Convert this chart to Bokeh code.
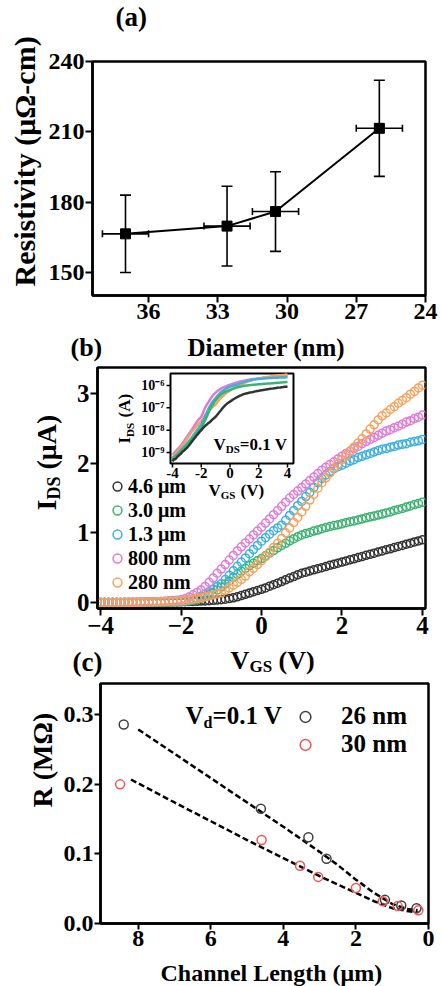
from math import pi
from bokeh.plotting import figure
from bokeh.models import (Range1d, LogScale, FixedTicker, Label, Legend, LegendItem,
                          Whisker, TeeHead, ColumnDataSource, NumeralTickFormatter)
from bokeh.layouts import column, row
from bokeh.core.properties import value
from bokeh.embed import file_html
from bokeh.resources import INLINE

# ---------------- data ----------------
# (a) resistivity vs diameter
diameter = [37.0, 32.6, 30.5, 26.0]
diameter_err = [1.0, 1.0, 1.0, 1.0]
resistivity = [166.5, 169.8, 176.0, 211.5]
resistivity_err = [16.5, 17.0, 17.0, 20.5]
a_xticks = [36, 33, 30, 27, 24]
a_yticks = [150, 180, 210, 240]

# (b) transfer curves, IDS in uA
vgs = [-4.0, -3.9, -3.8, -3.7, -3.6, -3.5, -3.4, -3.3, -3.2, -3.1,
       -3.0, -2.9, -2.8, -2.7, -2.6, -2.5, -2.4, -2.3, -2.2, -2.1,
       -2.0, -1.9, -1.8, -1.7, -1.6, -1.5, -1.4, -1.3, -1.2, -1.1,
       -1.0, -0.9, -0.8, -0.7, -0.6, -0.5, -0.4, -0.3, -0.2, -0.1,
       0.0, 0.1, 0.2, 0.3, 0.4, 0.5, 0.6, 0.7, 0.8, 0.9,
       1.0, 1.1, 1.2, 1.3, 1.4, 1.5, 1.6, 1.7, 1.8, 1.9,
       2.0, 2.1, 2.2, 2.3, 2.4, 2.5, 2.6, 2.7, 2.8, 2.9,
       3.0, 3.1, 3.2, 3.3, 3.4, 3.5, 3.6, 3.7, 3.8, 3.9, 4.0]
ids_4p6um = [0.0004, 0.0005, 0.0005, 0.0006, 0.0007, 0.0008, 0.0009, 0.0011, 0.0012, 0.0014,
             0.0016, 0.0019, 0.0023, 0.0028, 0.0034, 0.0041, 0.0049, 0.0060, 0.0072, 0.0086,
             0.010, 0.012, 0.014, 0.016, 0.018, 0.021, 0.023, 0.027, 0.031, 0.035,
             0.040, 0.048, 0.057, 0.068, 0.082, 0.100, 0.118, 0.136, 0.155, 0.172,
             0.190, 0.210, 0.235, 0.255, 0.278, 0.300, 0.325, 0.350, 0.372, 0.398,
             0.420, 0.435, 0.452, 0.469, 0.485, 0.500, 0.516, 0.533, 0.548, 0.565,
             0.580, 0.597, 0.612, 0.627, 0.645, 0.660, 0.677, 0.691, 0.708, 0.725,
             0.740, 0.757, 0.771, 0.789, 0.804, 0.820, 0.837, 0.851, 0.869, 0.884, 0.900]
ids_3p0um = [0.0005, 0.0006, 0.0007, 0.0008, 0.0009, 0.0010, 0.0012, 0.0014, 0.0016, 0.0019,
             0.0022, 0.0026, 0.0031, 0.0037, 0.0044, 0.0052, 0.0062, 0.0074, 0.0088, 0.0104,
             0.012, 0.016, 0.022, 0.030, 0.042, 0.060, 0.085, 0.110, 0.140, 0.180,
             0.220, 0.265, 0.310, 0.360, 0.405, 0.450, 0.490, 0.530, 0.565, 0.600,
             0.630, 0.670, 0.710, 0.745, 0.785, 0.820, 0.850, 0.885, 0.915, 0.945,
             0.970, 0.990, 1.005, 1.025, 1.040, 1.060, 1.075, 1.090, 1.105, 1.115,
             1.130, 1.145, 1.160, 1.170, 1.185, 1.200, 1.215, 1.230, 1.240, 1.255,
             1.270, 1.285, 1.300, 1.320, 1.335, 1.350, 1.370, 1.385, 1.405, 1.420, 1.440]
ids_1p3um = [0.0005, 0.0006, 0.0007, 0.0008, 0.0009, 0.0011, 0.0013, 0.0015, 0.0018, 0.0021,
             0.0025, 0.0030, 0.0036, 0.0044, 0.0054, 0.0066, 0.0080, 0.0098, 0.012, 0.015,
             0.018, 0.024, 0.032, 0.045, 0.065, 0.090, 0.120, 0.155, 0.190, 0.230,
             0.270, 0.330, 0.390, 0.455, 0.520, 0.580, 0.640, 0.700, 0.760, 0.820,
             0.880, 0.930, 0.980, 1.030, 1.070, 1.110, 1.180, 1.250, 1.320, 1.390,
             1.450, 1.520, 1.580, 1.650, 1.720, 1.780, 1.830, 1.880, 1.920, 1.950,
             1.970, 2.000, 2.030, 2.050, 2.080, 2.100, 2.120, 2.140, 2.160, 2.180,
             2.200, 2.210, 2.230, 2.240, 2.260, 2.270, 2.280, 2.300, 2.310, 2.320, 2.340]
ids_800nm = [0.0008, 0.0009, 0.0011, 0.0013, 0.0015, 0.0018, 0.0021, 0.0026, 0.0032, 0.0040,
             0.0050, 0.0062, 0.0077, 0.0095, 0.012, 0.015, 0.019, 0.024, 0.029, 0.034,
             0.040, 0.055, 0.080, 0.110, 0.145, 0.180, 0.230, 0.290, 0.350, 0.420,
             0.480, 0.545, 0.610, 0.675, 0.740, 0.800, 0.855, 0.910, 0.970, 1.025,
             1.080, 1.140, 1.200, 1.260, 1.320, 1.380, 1.440, 1.500, 1.550, 1.600,
             1.650, 1.700, 1.750, 1.800, 1.850, 1.900, 1.940, 1.980, 2.020, 2.060,
             2.100, 2.140, 2.170, 2.210, 2.240, 2.280, 2.310, 2.340, 2.370, 2.400,
             2.430, 2.460, 2.480, 2.510, 2.530, 2.560, 2.590, 2.610, 2.640, 2.660, 2.690]
ids_280nm = [0.0006, 0.0007, 0.0008, 0.0010, 0.0012, 0.0014, 0.0017, 0.0021, 0.0026, 0.0032,
             0.0040, 0.0050, 0.0062, 0.0076, 0.0093, 0.011, 0.013, 0.016, 0.019, 0.022,
             0.025, 0.032, 0.040, 0.050, 0.060, 0.070, 0.082, 0.095, 0.110, 0.125,
             0.140, 0.175, 0.210, 0.250, 0.290, 0.330, 0.380, 0.440, 0.490, 0.545,
             0.600, 0.660, 0.720, 0.790, 0.850, 0.920, 1.000, 1.070, 1.150, 1.220,
             1.300, 1.380, 1.470, 1.550, 1.640, 1.720, 1.790, 1.860, 1.930, 1.990,
             2.050, 2.110, 2.170, 2.230, 2.290, 2.350, 2.420, 2.490, 2.550, 2.620,
             2.680, 2.720, 2.770, 2.810, 2.860, 2.900, 2.940, 2.990, 3.030, 3.080, 3.120]
b_labels = ["4.6 μm", "3.0 μm", "1.3 μm", "800 nm", "280 nm"]
b_colors = ["#333333", "#3cb371", "#3bb0e0", "#e07ad6", "#f5a25d"]
b_xticks = [-4, -2, 0, 2, 4]
b_yticks = [0, 1, 2, 3]
inset_xticks = [-4, -2, 0, 2, 4]
inset_xtick_labels = ["-4", "-2", "0", "2", "4"]
inset_yticks = [1e-9, 1e-8, 1e-7, 1e-6]
inset_ytick_labels = ["10⁻⁹", "10⁻⁸", "10⁻⁷", "10⁻⁶"]

# (c) resistance vs channel length
len_26nm = [8.4, 4.62, 3.31, 2.81, 1.2, 0.75, 0.33]
r_26nm = [0.286, 0.165, 0.124, 0.093, 0.034, 0.026, 0.022]
len_30nm = [8.5, 4.6, 3.54, 3.04, 2.0, 1.26, 0.85, 0.28]
r_30nm = [0.200, 0.120, 0.083, 0.067, 0.051, 0.032, 0.025, 0.019]
fit26_len = [8.0, 7.0, 6.0, 5.0, 4.0, 3.5, 3.0, 2.5, 2.0, 1.5, 1.0, 0.6, 0.3]
fit26_r = [0.279, 0.244, 0.209, 0.174, 0.139, 0.121, 0.103, 0.084, 0.063, 0.044, 0.028, 0.021, 0.019]
fit30_len = [8.2, 7.0, 6.0, 5.0, 4.0, 3.5, 3.0, 2.5, 2.0, 1.5, 1.0, 0.6, 0.3]
fit30_r = [0.207, 0.174, 0.147, 0.120, 0.094, 0.081, 0.068, 0.056, 0.044, 0.032, 0.022, 0.018, 0.016]
c_xticks = [8, 6, 4, 2, 0]
c_yticks = [0.0, 0.1, 0.2, 0.3]

# ---------------- helpers ----------------
FONT = "Liberation Serif"
W = 441


def style(p, tick_size, tick_out=7):
    p.grid.visible = False
    p.outline_line_color = "black"
    p.outline_line_width = 2.5
    p.outline_line_alpha = 1
    p.background_fill_color = "white"
    p.border_fill_color = "white"
    for ax in p.axis:
        ax.axis_line_width = 2.5
        ax.axis_line_color = "black"
        ax.major_tick_line_width = 2
        ax.major_tick_line_color = "black"
        ax.major_tick_in = 0
        ax.major_tick_out = tick_out
        ax.minor_tick_line_color = None
        ax.major_label_text_font = FONT
        ax.major_label_text_font_style = "bold"
        ax.major_label_text_font_size = f"{tick_size}px"
        ax.major_label_text_color = "black"
        ax.major_label_standoff = 1


def strip(w, h):
    s = figure(width=w, height=h, x_range=Range1d(0, w), y_range=Range1d(0, h),
               output_backend="svg", toolbar_location=None,
               x_axis_location=None, y_axis_location=None,
               min_border_left=0, min_border_right=0, min_border_top=0, min_border_bottom=0)
    s.grid.visible = False
    s.outline_line_color = None
    s.background_fill_color = "white"
    s.border_fill_color = "white"
    return s


def lab(p, frame, px, py, text, size, angle=0.0, align="left", baseline="middle"):
    # frame = (page x of the frame's left edge, page y of the frame's bottom edge)
    p.add_layout(Label(x=px - frame[0], y=frame[1] - py, x_units="screen", y_units="screen",
                       text=text, text_font=FONT, text_font_style="bold",
                       text_font_size=f"{size}px", text_color="black", angle=angle,
                       text_align=align, text_baseline=baseline))


# ---------------- top block: "(a)" + panel (a) ----------------
sYA = strip(45, 331)
lab(sYA, (0, 331), 24, 286, "Resistivity (μΩ-cm)", 30, angle=pi / 2)

s0 = strip(396, 33)
lab(s0, (45, 33), 68, 16, "(a)", 27)

pa = figure(width=396, height=298, x_range=Range1d(38.43, 24), y_range=Range1d(140.2, 240),
            output_backend="svg", toolbar_location=None,
            min_border_left=47, min_border_right=16, min_border_top=28, min_border_bottom=36)
style(pa, 24)
pa.xaxis.ticker = FixedTicker(ticks=a_xticks)
pa.yaxis.ticker = FixedTicker(ticks=a_yticks)

src_a = ColumnDataSource(dict(
    x=diameter, y=resistivity,
    yl=[r - e for r, e in zip(resistivity, resistivity_err)],
    yu=[r + e for r, e in zip(resistivity, resistivity_err)],
    xl=[d - e for d, e in zip(diameter, diameter_err)],
    xu=[d + e for d, e in zip(diameter, diameter_err)]))
pa.add_layout(Whisker(source=src_a, base="x", lower="yl", upper="yu", dimension="height",
                      line_width=1.6, line_color="black",
                      upper_head=TeeHead(size=11, line_width=1.6),
                      lower_head=TeeHead(size=11, line_width=1.6)))
pa.add_layout(Whisker(source=src_a, base="y", lower="xl", upper="xu", dimension="width",
                      line_width=1.6, line_color="black",
                      upper_head=TeeHead(size=7, line_width=1.6),
                      lower_head=TeeHead(size=7, line_width=1.6)))
pa.line("x", "y", source=src_a, line_color="black", line_width=2)
pa.scatter("x", "y", source=src_a, marker="square", size=10, color="black")

# ---------------- "Diameter (nm)" and "(b)" ----------------
s2 = strip(W, 31)
lab(s2, (0, 362), 70, 346.5, "(b)", 26)
lab(s2, (0, 362), 187, 347, "Diameter (nm)", 25)

# ---------------- (b) ----------------
sYB = strip(64, 283)
FYB = (0, 645)
lab(sYB, FYB, 46, 547, "I", 28, angle=pi / 2)
lab(sYB, FYB, 53, 536, "DS", 18, angle=pi / 2)
lab(sYB, FYB, 46, 506, "(μA)", 28, angle=pi / 2)

pb = figure(width=377, height=283, x_range=Range1d(-4.075, 4.075), y_range=Range1d(-0.086, 3.373),
            output_backend="svg", toolbar_location=None,
            min_border_left=33, min_border_right=16, min_border_top=5, min_border_bottom=37)
style(pb, 25)
pb.xaxis.ticker = FixedTicker(ticks=b_xticks)
pb.yaxis.ticker = FixedTicker(ticks=b_yticks)
FB = (97, 608)

series = [ids_4p6um, ids_3p0um, ids_1p3um, ids_800nm, ids_280nm]
items = []
for ys, col, name in zip(series, b_colors, b_labels):
    r = pb.scatter(vgs, ys, marker="circle", size=8, fill_alpha=0, line_color=col, line_width=1.5)
    items.append(LegendItem(label=name, renderers=[r]))
leg = Legend(items=items, location=(9, 14), label_text_font=FONT, label_text_font_style="bold",
             label_text_font_size="20px", label_text_color="black", glyph_height=24,
             glyph_width=22, label_standoff=0, spacing=0, padding=0, margin=0,
             border_line_alpha=0, background_fill_alpha=0)
pb.add_layout(leg)

# inset: extra ranges mapped onto its box inside the frame
IL, IR, IT, IB = -4.139, 4.417, 10 ** -5.463, 10 ** -9.493
pb.extra_x_ranges = {"ix": Range1d(-9.217, 13.6)}
pb.extra_y_ranges = {"iy": Range1d(10 ** -15.986, 10 ** -5.194)}
pb.extra_y_scales = {"iy": LogScale()}
pb.quad(left=[IL], right=[IR], bottom=[IB], top=[IT], fill_color="white", line_color="black",
        line_width=2, x_range_name="ix", y_range_name="iy")
for idx in [3, 4, 2, 1, 0]:
    pb.line(vgs, [v * 1e-6 for v in series[idx]], line_color=b_colors[idx], line_width=2.5,
            x_range_name="ix", y_range_name="iy")
pb.segment(x0=inset_xticks, x1=inset_xticks, y0=[IB] * len(inset_xticks),
           y1=[10 ** (-9.493 - 4 / 22.33)] * len(inset_xticks), line_color="black", line_width=1.5,
           x_range_name="ix", y_range_name="iy")
pb.segment(x0=[IL] * len(inset_yticks), x1=[IL - 4 / 14.375] * len(inset_yticks), y0=inset_yticks,
           y1=inset_yticks, line_color="black", line_width=1.5, x_range_name="ix", y_range_name="iy")
pb.text(x=inset_xticks, y=[IB] * len(inset_xticks), text=inset_xtick_labels, y_offset=4,
        text_align="center", text_baseline="top", text_font=value(FONT), text_font_style="bold",
        text_font_size="15px", text_color="black", x_range_name="ix", y_range_name="iy")
pb.text(x=[IL] * len(inset_yticks), y=inset_yticks, text=inset_ytick_labels, x_offset=-6,
        text_align="right", text_baseline="middle", text_font=value(FONT), text_font_style="bold",
        text_font_size="14px", text_color="black", x_range_name="ix", y_range_name="iy")

lab(pb, FB, 124, 443, "I", 17, angle=pi / 2)
lab(pb, FB, 129, 436.4, "DS", 11, angle=pi / 2)
lab(pb, FB, 124, 417, "(A)", 17, angle=pi / 2)
lab(pb, FB, 208, 490, "V", 17)
lab(pb, FB, 220.3, 494, "GS", 11)
lab(pb, FB, 240, 490, "(V)", 17)
lab(pb, FB, 213, 444, "V", 17)
lab(pb, FB, 225.3, 448, "DS", 11)
lab(pb, FB, 239.3, 444, "=0.1 V", 17)

# ---------------- "VGS (V)" and "(c)" ----------------
s4 = strip(W, 32)
F4 = (0, 677)
lab(s4, F4, 72, 661, "(c)", 27)
lab(s4, F4, 230, 660, "V", 26)
lab(s4, F4, 249, 666, "GS", 17)
lab(s4, F4, 278, 660, "(V)", 26)

# ---------------- (c) ----------------
sYC = strip(60, 281)
lab(sYC, (0, 958), 42, 842, "R (MΩ)", 28, angle=pi / 2)

pc = figure(width=381, height=281, x_range=Range1d(9.04, 0), y_range=Range1d(0, 0.345),
            output_backend="svg", toolbar_location=None,
            min_border_left=37, min_border_right=13, min_border_top=6, min_border_bottom=35)
style(pc, 24, tick_out=6)
pc.xaxis.ticker = FixedTicker(ticks=c_xticks)
pc.yaxis.ticker = FixedTicker(ticks=c_yticks)
pc.yaxis.formatter = NumeralTickFormatter(format="0.0")
FC = (97, 923)

pc.line(fit26_len, fit26_r, line_color="black", line_width=2.5, line_dash="6 3")
pc.line(fit30_len, fit30_r, line_color="black", line_width=2.5, line_dash="6 3")
r26 = pc.scatter(len_26nm, r_26nm, marker="circle", size=9, fill_alpha=0, line_color="#404040",
                 line_width=1.5)
r30 = pc.scatter(len_30nm, r_30nm, marker="circle", size=9, fill_alpha=0, line_color="#f05555",
                 line_width=1.5)
leg_c = Legend(items=[LegendItem(label="26 nm", renderers=[r26]),
                      LegendItem(label="30 nm", renderers=[r30])],
               location=(191, 165), label_text_font=FONT, label_text_font_style="bold",
               label_text_font_size="25px", label_text_color="black", glyph_height=27,
               glyph_width=28, label_standoff=22, spacing=0, padding=0, margin=0,
               border_line_alpha=0, background_fill_alpha=0)
pc.add_layout(leg_c)

lab(pc, FC, 182, 715, "V", 25)
lab(pc, FC, 200, 722, "d", 16)
lab(pc, FC, 209, 715, "=0.1 V", 25)

# ---------------- "Channel Length (μm)" ----------------
s6 = strip(W, 28)
lab(s6, (0, 986), 160, 972, "Channel Length (μm)", 24)

layout = column(row(sYA, column(s0, pa)), s2, row(sYB, pb), s4, row(sYC, pc), s6)
open("out.html", "w").write(file_html(layout, INLINE, title="plot"))
